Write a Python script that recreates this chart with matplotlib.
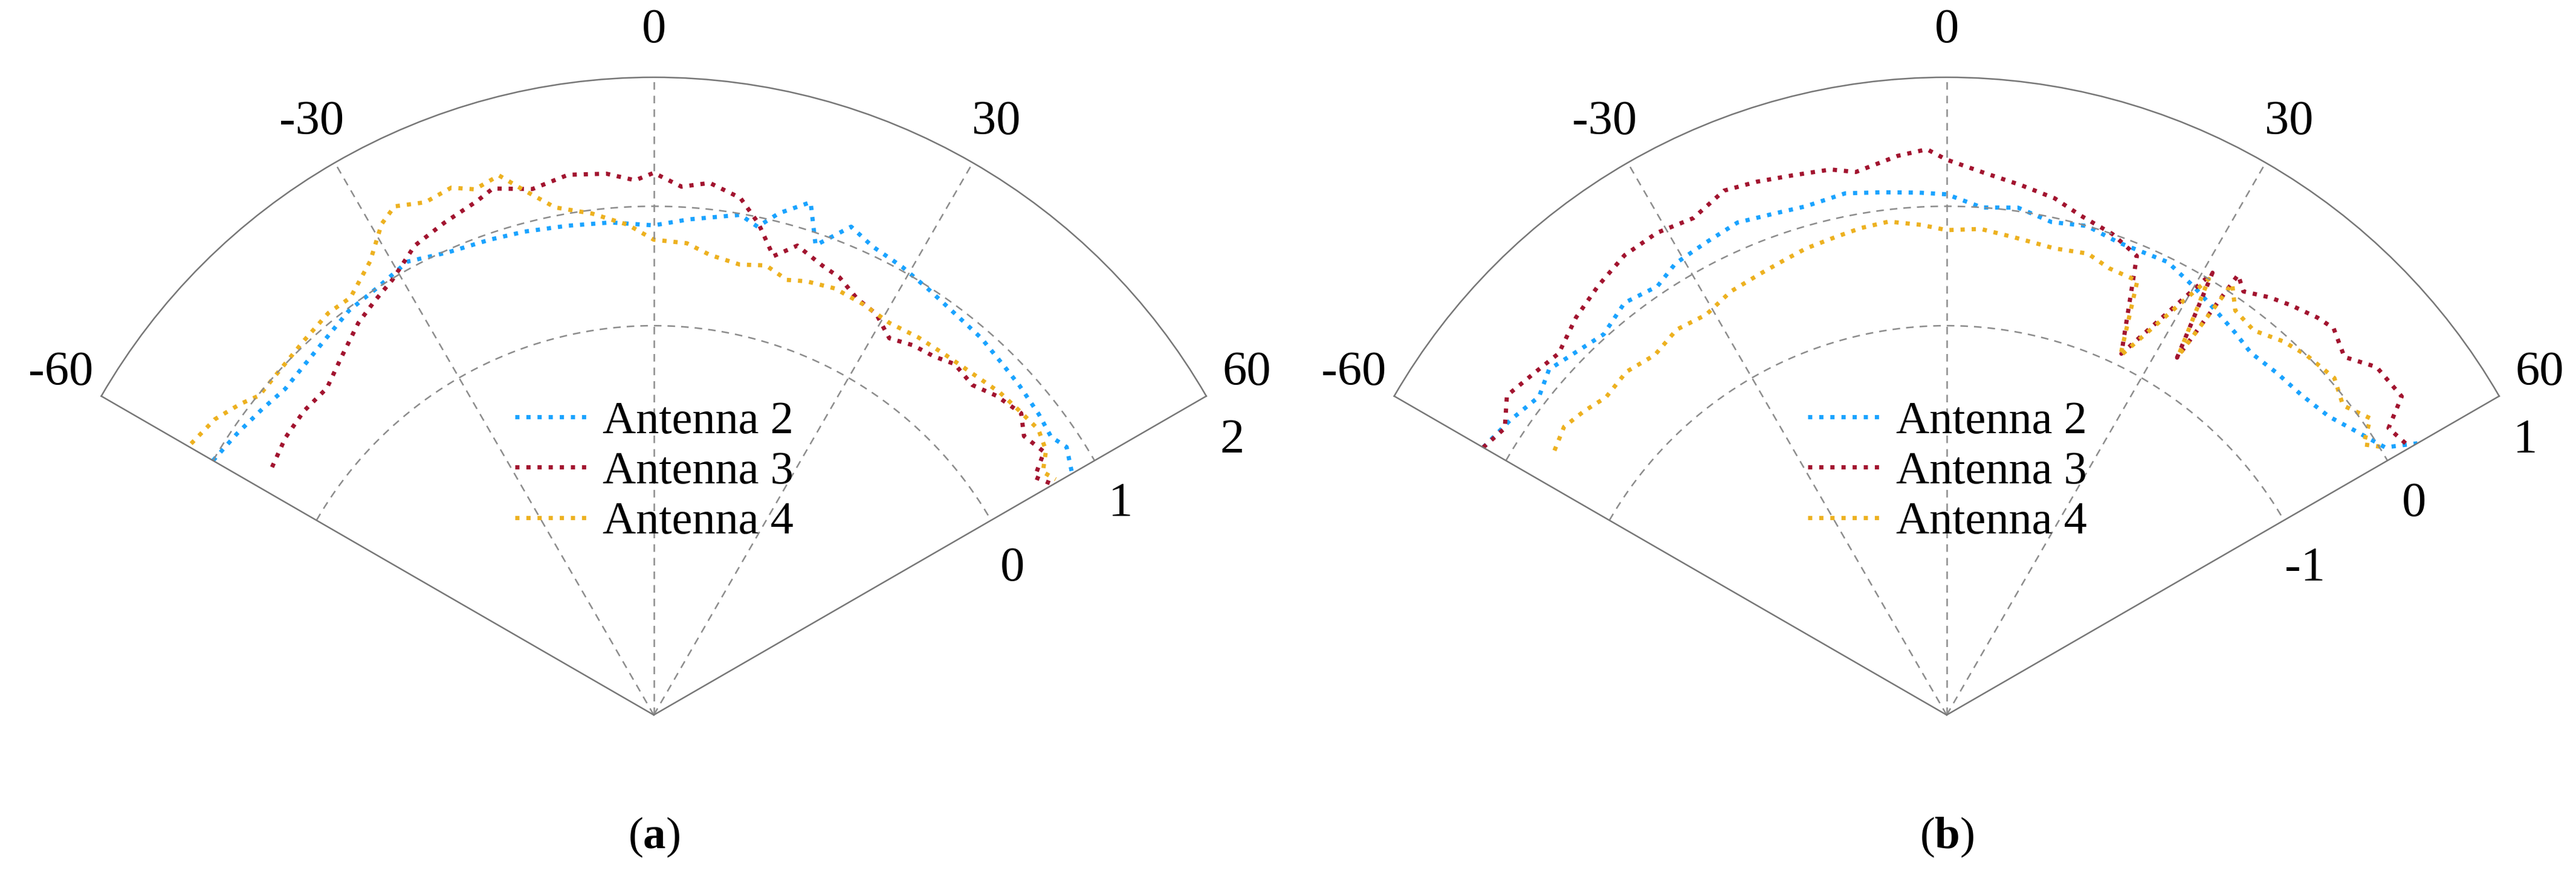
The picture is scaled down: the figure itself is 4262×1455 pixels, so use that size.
import numpy as np
import matplotlib
matplotlib.use("Agg")
import matplotlib.pyplot as plt

plt.rcParams['font.family'] = ['Liberation Serif', 'DejaVu Serif']
plt.rcParams['mathtext.fontset'] = 'custom'
plt.rcParams['mathtext.rm'] = 'Liberation Serif'
plt.rcParams['mathtext.bf'] = 'Liberation Serif:bold'

labels = ["Antenna 2", "Antenna 3", "Antenna 4"]
colors = ["#1AA3FF", "#A2142F", "#EDB120"]

# panel (a)
a2_th = [-60, -56, -52, -48.5, -45, -41, -37, -33, -28.5, -24, -19, -15, -10, -5, 0, 4, 9.8, 12, 14, 17, 19, 22, 25, 29, 33, 37, 41, 45, 48, 52, 55, 57, 59.7]
a2_r = [1.0, 0.95, 0.9, 0.86, 0.88, 0.92, 0.98, 1.0, 1.06, 0.98, 0.95, 0.93, 0.9, 0.88, 0.84, 0.9, 0.99, 0.92, 1.07, 1.23, 0.9, 1.15, 1.07, 1.03, 0.98, 0.94, 0.92, 0.88, 0.86, 0.83, 0.8, 0.86, 0.79]
a3_th = [-57, -53, -49, -45, -41, -37, -34, -31, -27, -23, -19, -17, -13, -9, -5, -2, 0, 3, 6, 9.5, 12, 14.6, 17, 20.5, 23, 26, 29, 32, 35, 38, 40.6, 44, 47, 50.6, 53, 56, 58, 60]
a3_r = [0.55, 0.6, 0.62, 0.61, 0.72, 0.85, 0.92, 0.99, 1.15, 1.22, 1.29, 1.35, 1.26, 1.32, 1.29, 1.22, 1.28, 1.17, 1.22, 1.13, 0.95, 0.71, 0.85, 0.76, 0.72, 0.62, 0.58, 0.46, 0.52, 0.55, 0.61, 0.58, 0.66, 0.72, 0.62, 0.68, 0.5, 0.6]
a4_th = [-59.6, -56, -53, -51, -47, -43, -39, -36, -32, -29, -27, -24, -21, -18.8, -16, -13.8, -11, -7, -3, 0, 4, 7, 10.8, 14, 17, 19.4, 23, 27, 31, 35, 39, 43, 47, 50, 53.4, 56, 58, 59.6]
a4_r = [1.23, 1.17, 1.07, 0.99, 1.0, 1.03, 1.07, 1.06, 1.22, 1.44, 1.52, 1.44, 1.47, 1.39, 1.44, 1.26, 1.07, 0.97, 0.85, 0.72, 0.7, 0.62, 0.58, 0.62, 0.55, 0.59, 0.62, 0.6, 0.57, 0.6, 0.62, 0.65, 0.7, 0.72, 0.75, 0.7, 0.58, 0.64]

# panel (b)
b2_th = [-60, -56, -52, -49, -46, -42, -38, -34, -31, -27, -23, -19, -15.5, -11, -7, -3, 0, 4, 8, 12, 16, 20, 26, 30, 34, 37, 40, 44, 48, 52, 55, 58.6, 60]
b2_r = [0.22, 0.15, 0.07, 0.15, 0.09, 0.03, 0.12, 0.07, 0.15, 0.18, 0.22, 0.18, 0.16, 0.19, 0.15, 0.12, 0.1, 0.0, 0.03, -0.04, 0.0, -0.05, -0.04, -0.12, -0.2, -0.25, -0.3, -0.28, -0.26, -0.2, -0.1, 0.04, 0.29]
b3_th = [-60, -57, -54, -50, -47, -43, -39, -35, -31, -27, -23, -19.6, -16, -12, -9.5, -5, -2, 0, 4, 8, 11.8, 15, 19, 22.5, 25.8, 31, 32.8, 33.5, 35, 37.7, 40, 43, 45, 48, 51, 55, 57, 60]
b3_r = [0.22, 0.15, 0.29, 0.22, 0.18, 0.29, 0.37, 0.44, 0.45, 0.41, 0.51, 0.48, 0.44, 0.41, 0.35, 0.44, 0.48, 0.39, 0.29, 0.22, 0.16, 0.07, 0.0, -0.1, -0.9, 0.06, -0.7, 0.16, 0.07, 0.16, 0.22, 0.29, 0.32, 0.22, 0.37, 0.39, 0.15, 0.22]
b4_th = [-56, -53, -50, -47, -43, -39, -35, -31, -27, -23, -20, -16.8, -13, -10, -6.7, -3, 0, 4, 8, 13, 17, 20, 23.7, 25.8, 31, 32.8, 33.5, 35.5, 38.6, 42, 45, 49, 52, 55, 57, 58.6]
b4_r = [-0.3, -0.25, -0.3, -0.36, -0.33, -0.38, -0.32, -0.35, -0.28, -0.25, -0.22, -0.18, -0.15, -0.12, -0.1, -0.15, -0.2, -0.18, -0.22, -0.25, -0.22, -0.28, -0.29, -0.92, 0.0, -0.68, 0.07, -0.1, -0.14, -0.05, 0.0, 0.04, -0.05, 0.07, -0.1, 0.04]

panels = [
    dict(series=[(a2_th, a2_r), (a3_th, a3_r), (a4_th, a4_r)], ticks=[0, 1, 2], tlab=["0", "1", "2"],
         grid=[0, 1], rlim=(-3.26, 2.08), cx=0.2538, cap=r"$\mathrm{(}\mathbf{a}\mathrm{)}$"),
    dict(series=[(b2_th, b2_r), (b3_th, b3_r), (b4_th, b4_r)], ticks=[-1, 0, 1], tlab=["-1", "0", "1"],
         grid=[-1, 0], rlim=(-4.26, 1.08), cx=0.7557, cap=r"$\mathrm{(}\mathbf{b}\mathrm{)}$"),
]

AW, AH, AB = 0.743, 1.2565, -0.0789

fig = plt.figure(figsize=(42.62, 14.55), dpi=100)
for p in panels:
    rmin, rmax = p['rlim']
    ax = fig.add_axes([p['cx'] - AW / 2, AB, AW, AH], projection='polar')
    ax.set_theta_zero_location('N')
    ax.set_theta_direction(-1)
    ax.set_thetamin(-60)
    ax.set_thetamax(60)
    ax.set_rlim(rmin, rmax)
    ax.grid(False)
    for (th, r), c, lab in zip(p['series'], colors, labels):
        ax.plot(np.deg2rad(th), r, color=c, ls=':', lw=5, label=lab)
    tt = np.deg2rad(np.linspace(-60, 60, 300))
    for g in p['grid']:
        ax.plot(tt, np.full_like(tt, g), color='#8c8c8c', ls='--', lw=1.8, dashes=(5, 4))
    for a in [-30, 0, 30]:
        ax.plot([np.deg2rad(a)] * 2, [rmin, rmax], color='#8c8c8c', ls='--', lw=1.8, dashes=(5, 4))
    for s in ax.spines.values():
        s.set_color('#777777')
        s.set_linewidth(1.8)
    ax.set_xticks(np.deg2rad([-60, -30, 0, 30, 60]))
    ax.set_xticklabels(["-60", "-30", "0", "30", "60"], fontsize=58)
    ax.tick_params(axis='x', pad=45)
    ax.set_yticks([])
    for v, s, ang, off in zip(p['ticks'], p['tlab'], [67.8, 65.7, 64.6], [-0.02, 0.03, 0.1]):
        ax.text(np.deg2rad(ang), v + off, s, fontsize=58, ha='center', va='center')
    ax.legend(loc='upper left', bbox_to_anchor=(p['cx'] - 0.061, 0.565),
              bbox_transform=fig.transFigure, frameon=False, fontsize=55,
              handlelength=1.6, handletextpad=0.3, labelspacing=0.18, borderaxespad=0)
    fig.text(p['cx'], 0.047, p['cap'], fontsize=54, ha='center', va='center')

fig.savefig("out.png", dpi=100)
